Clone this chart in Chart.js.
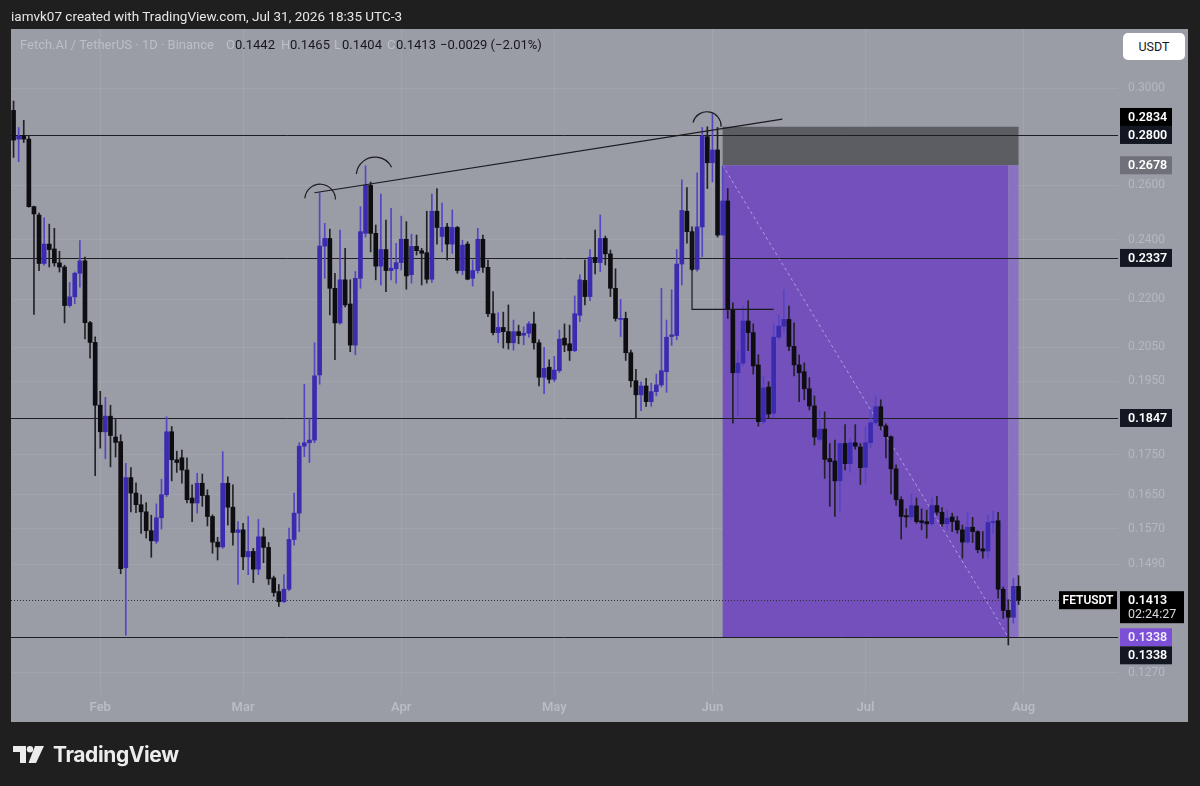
<!DOCTYPE html>
<html>
<head>
<meta charset="utf-8">
<title>FETUSDT 1D</title>
<script src="https://cdn.jsdelivr.net/npm/chart.js@4.4.1/dist/chart.umd.min.js"></script>
<style>
  html, body { margin: 0; padding: 0; background: #1f1f1f; }
  body { width: 1200px; height: 786px; position: relative; overflow: hidden; font-family: Roboto, 'Noto Sans', sans-serif; }
  #chart { position: absolute; left: 0; top: 0; width: 1200px; height: 786px; }
  .txt { position: absolute; white-space: pre; z-index: 2; }
  #credit { left: 11px; top: 8px; color: #e6e6e6; font-size: 13.5px; }
  .lg { top: 37px; font-size: 13px; }
  .faint { color: #bdbfc7; }
  .val { color: #17171c; }
  #usdt { position: absolute; z-index: 2; left: 1123px; top: 33px; width: 62px; height: 27px; background: #fff;
          border-radius: 5px; color: #131722; font-size: 12.5px; line-height: 27px; text-align: center; }
  #logo { position: absolute; left: 13px; top: 742px; z-index: 2; display: flex; align-items: center; }
  #logo span { color: #ececec; font-family: Inter, Roboto, sans-serif; font-weight: 700; font-size: 21px; margin-left: 8px; letter-spacing: -0.4px; }
</style>
</head>
<body>
<canvas id="chart" width="1200" height="786"></canvas>
<div id="credit" class="txt">iamvk07 created with TradingView.com, Jul 31, 2026 18:35 UTC-3</div>
<div class="txt lg faint" style="left:20px">Fetch.AI / TetherUS · 1D · Binance</div>
<div class="txt lg faint" style="left:226px">O</div><div id="lgO" class="txt lg val" style="left:235px"></div>
<div class="txt lg faint" style="left:281px">H</div><div id="lgH" class="txt lg val" style="left:290px"></div>
<div class="txt lg faint" style="left:334px">L</div><div id="lgL" class="txt lg val" style="left:342px"></div>
<div class="txt lg faint" style="left:387px">C</div><div id="lgC" class="txt lg val" style="left:396px"></div>
<div id="lgChg" class="txt lg val" style="left:440px"></div>
<div id="usdt">USDT</div>
<div id="logo">
  <svg width="32" height="18" viewBox="0 0 32 18">
    <path d="M0 0h13v17h-6v-11h-7z" fill="#ececec"/>
    <circle cx="17" cy="3.2" r="3.2" fill="#ececec"/>
    <path d="M22 0h9l-8 17h-7.5z" fill="#ececec"/>
  </svg>
  <span>TradingView</span>
</div>
<script>
// ---- data: FET/USDT daily, 15 Jan 2026 .. 31 Jul 2026 ----
const START_DATE = [2026, 0, 15];
const EXTRA_DAYS = 19; // empty days to the right of the last bar

const opens = [
  0.2903, 0.2783, 0.2797, 0.2783, 0.2520, 0.2489, 0.2318, 0.2385, 0.2368, 0.2320,
  0.2306, 0.2179, 0.2207, 0.2285, 0.2327, 0.2125, 0.2064, 0.1882, 0.1810, 0.1852,
  0.1796, 0.1784, 0.1482, 0.1692, 0.1654, 0.1626, 0.1609, 0.1565, 0.1541, 0.1595,
  0.1650, 0.1810, 0.1737, 0.1742, 0.1711, 0.1642, 0.1630, 0.1678, 0.1648, 0.1598,
  0.1539, 0.1528, 0.1678, 0.1620, 0.1561, 0.1567, 0.1506, 0.1518, 0.1479, 0.1551,
  0.1527, 0.1460, 0.1431, 0.1410, 0.1436, 0.1545, 0.1606, 0.1772, 0.1781, 0.1788,
  0.1968, 0.2378, 0.2405, 0.2235, 0.2124, 0.2263, 0.2184, 0.2056, 0.2268, 0.2423,
  0.2600, 0.2423, 0.2309, 0.2366, 0.2294, 0.2300, 0.2321, 0.2402, 0.2280, 0.2377,
  0.2362, 0.2355, 0.2265, 0.2503, 0.2412, 0.2446, 0.2385, 0.2444, 0.2294, 0.2385,
  0.2268, 0.2294, 0.2402, 0.2305, 0.2153, 0.2094, 0.2110, 0.2097, 0.2063, 0.2097,
  0.2086, 0.2092, 0.2121, 0.2063, 0.1961, 0.1990, 0.1955, 0.1980, 0.2077, 0.2060,
  0.2039, 0.2148, 0.2261, 0.2208, 0.2339, 0.2321, 0.2405, 0.2351, 0.2235, 0.2135,
  0.2138, 0.2033, 0.1951, 0.1911, 0.1936, 0.1892, 0.1920, 0.1939, 0.1977, 0.2082,
  0.2085, 0.2316, 0.2503, 0.2429, 0.2298, 0.2446, 0.2793, 0.2688, 0.2739, 0.2417,
  0.2541, 0.2167, 0.1974, 0.2002, 0.2130, 0.2094, 0.1997, 0.1837, 0.1933, 0.1860,
  0.2080, 0.2114, 0.2135, 0.2052, 0.1997, 0.1977, 0.1928, 0.1880, 0.1790, 0.1817,
  0.1740, 0.1734, 0.1684, 0.1779, 0.1727, 0.1781, 0.1770, 0.1718, 0.1781, 0.1834,
  0.1878, 0.1826, 0.1797, 0.1714, 0.1638, 0.1600, 0.1597, 0.1623, 0.1588, 0.1586,
  0.1581, 0.1624, 0.1608, 0.1581, 0.1597, 0.1588, 0.1567, 0.1539, 0.1573, 0.1563,
  0.1524, 0.1519, 0.1584, 0.1588, 0.1436, 0.1392, 0.1378, 0.1442
];
const highs = [
  0.2943, 0.2831, 0.2861, 0.2797, 0.2522, 0.2496, 0.2479, 0.2456, 0.2441, 0.2360,
  0.2312, 0.2254, 0.2289, 0.2397, 0.2340, 0.2129, 0.2081, 0.1921, 0.1904, 0.1882,
  0.1843, 0.1802, 0.1728, 0.1717, 0.1679, 0.1650, 0.1631, 0.1601, 0.1628, 0.1688,
  0.1850, 0.1824, 0.1759, 0.1762, 0.1742, 0.1674, 0.1703, 0.1701, 0.1662, 0.1602,
  0.1550, 0.1758, 0.1694, 0.1674, 0.1586, 0.1582, 0.1598, 0.1525, 0.1591, 0.1571,
  0.1538, 0.1464, 0.1446, 0.1467, 0.1571, 0.1654, 0.1781, 0.1941, 0.1847, 0.2063,
  0.2572, 0.2459, 0.2438, 0.2285, 0.2435, 0.2370, 0.2263, 0.2291, 0.2520, 0.2676,
  0.2613, 0.2453, 0.2567, 0.2471, 0.2514, 0.2388, 0.2485, 0.2465, 0.2420, 0.2417,
  0.2370, 0.2503, 0.2567, 0.2588, 0.2533, 0.2459, 0.2508, 0.2448, 0.2399, 0.2393,
  0.2330, 0.2441, 0.2417, 0.2330, 0.2224, 0.2156, 0.2158, 0.2181, 0.2133, 0.2117,
  0.2112, 0.2128, 0.2158, 0.2072, 0.2049, 0.2012, 0.2022, 0.2102, 0.2121, 0.2117,
  0.2210, 0.2280, 0.2330, 0.2366, 0.2435, 0.2489, 0.2413, 0.2364, 0.2300, 0.2199,
  0.2158, 0.2041, 0.1984, 0.1948, 0.1958, 0.1944, 0.1970, 0.2235, 0.2133, 0.2230,
  0.2366, 0.2621, 0.2592, 0.2446, 0.2648, 0.2831, 0.2834, 0.2886, 0.2831, 0.2676,
  0.2588, 0.2188, 0.2039, 0.2177, 0.2194, 0.2121, 0.2027, 0.1965, 0.1948, 0.2121,
  0.2149, 0.2230, 0.2177, 0.2124, 0.2027, 0.2003, 0.1960, 0.1908, 0.1869, 0.1864,
  0.1779, 0.1788, 0.1781, 0.1829, 0.1792, 0.1829, 0.1779, 0.1824, 0.1869, 0.1908,
  0.1897, 0.1831, 0.1799, 0.1724, 0.1645, 0.1616, 0.1652, 0.1642, 0.1616, 0.1613,
  0.1642, 0.1646, 0.1619, 0.1614, 0.1606, 0.1598, 0.1578, 0.1609, 0.1596, 0.1565,
  0.1563, 0.1602, 0.1610, 0.1608, 0.1441, 0.1414, 0.1459, 0.1465
];
const lows = [
  0.2709, 0.2692, 0.2769, 0.2518, 0.2151, 0.2294, 0.2312, 0.2306, 0.2309, 0.2289,
  0.2124, 0.2174, 0.2185, 0.2239, 0.2075, 0.2017, 0.1697, 0.1767, 0.1740, 0.1719,
  0.1744, 0.1469, 0.1342, 0.1609, 0.1607, 0.1559, 0.1548, 0.1505, 0.1536, 0.1569,
  0.1645, 0.1684, 0.1705, 0.1678, 0.1630, 0.1586, 0.1606, 0.1622, 0.1576, 0.1514,
  0.1499, 0.1525, 0.1578, 0.1532, 0.1446, 0.1478, 0.1467, 0.1450, 0.1467, 0.1493,
  0.1446, 0.1421, 0.1400, 0.1408, 0.1433, 0.1532, 0.1563, 0.1745, 0.1730, 0.1781,
  0.1941, 0.2268, 0.2149, 0.2012, 0.2120, 0.2175, 0.2036, 0.2027, 0.2235, 0.2410,
  0.2358, 0.2263, 0.2246, 0.2224, 0.2263, 0.2252, 0.2296, 0.2232, 0.2252, 0.2347,
  0.2246, 0.2252, 0.2254, 0.2385, 0.2358, 0.2330, 0.2353, 0.2285, 0.2280, 0.2263,
  0.2242, 0.2285, 0.2288, 0.2144, 0.2087, 0.2063, 0.2047, 0.2044, 0.2041, 0.2060,
  0.2057, 0.2080, 0.2044, 0.1936, 0.1914, 0.1944, 0.1948, 0.1975, 0.2036, 0.2010,
  0.2036, 0.2128, 0.2181, 0.2195, 0.2283, 0.2290, 0.2313, 0.2208, 0.2130, 0.2082,
  0.2010, 0.1933, 0.1847, 0.1867, 0.1879, 0.1879, 0.1908, 0.1933, 0.1918, 0.2055,
  0.2072, 0.2246, 0.2388, 0.2294, 0.2292, 0.2341, 0.2588, 0.2613, 0.2410, 0.2417,
  0.2138, 0.1833, 0.1852, 0.1994, 0.2039, 0.1970, 0.1825, 0.1830, 0.1847, 0.1850,
  0.2072, 0.2094, 0.2039, 0.1965, 0.1892, 0.1897, 0.1869, 0.1775, 0.1783, 0.1690,
  0.1622, 0.1598, 0.1610, 0.1711, 0.1705, 0.1764, 0.1675, 0.1678, 0.1767, 0.1829,
  0.1815, 0.1742, 0.1652, 0.1624, 0.1546, 0.1573, 0.1590, 0.1582, 0.1567, 0.1548,
  0.1577, 0.1601, 0.1575, 0.1567, 0.1563, 0.1559, 0.1503, 0.1536, 0.1538, 0.1515,
  0.1503, 0.1503, 0.1559, 0.1417, 0.1376, 0.1323, 0.1366, 0.1404
];
const closes = [
  0.2779, 0.2795, 0.2783, 0.2520, 0.2493, 0.2318, 0.2385, 0.2366, 0.2320, 0.2306,
  0.2179, 0.2207, 0.2285, 0.2327, 0.2125, 0.2064, 0.1882, 0.1810, 0.1852, 0.1800,
  0.1782, 0.1480, 0.1692, 0.1654, 0.1626, 0.1609, 0.1565, 0.1542, 0.1595, 0.1650,
  0.1810, 0.1737, 0.1730, 0.1711, 0.1638, 0.1630, 0.1678, 0.1648, 0.1598, 0.1539,
  0.1528, 0.1678, 0.1620, 0.1561, 0.1567, 0.1506, 0.1518, 0.1479, 0.1551, 0.1527,
  0.1458, 0.1429, 0.1410, 0.1436, 0.1545, 0.1606, 0.1772, 0.1781, 0.1788, 0.1965,
  0.2378, 0.2405, 0.2235, 0.2124, 0.2263, 0.2181, 0.2056, 0.2268, 0.2429, 0.2600,
  0.2423, 0.2309, 0.2366, 0.2294, 0.2302, 0.2321, 0.2402, 0.2276, 0.2377, 0.2362,
  0.2353, 0.2265, 0.2503, 0.2444, 0.2444, 0.2385, 0.2444, 0.2294, 0.2381, 0.2265,
  0.2294, 0.2402, 0.2305, 0.2153, 0.2094, 0.2110, 0.2097, 0.2063, 0.2097, 0.2085,
  0.2092, 0.2121, 0.2063, 0.1961, 0.1987, 0.1955, 0.1982, 0.2074, 0.2056, 0.2039,
  0.2153, 0.2263, 0.2208, 0.2339, 0.2321, 0.2405, 0.2351, 0.2235, 0.2138, 0.2138,
  0.2033, 0.1951, 0.1911, 0.1936, 0.1892, 0.1920, 0.1939, 0.1980, 0.2080, 0.2087,
  0.2316, 0.2506, 0.2429, 0.2298, 0.2446, 0.2795, 0.2688, 0.2739, 0.2417, 0.2541,
  0.2167, 0.1974, 0.2002, 0.2130, 0.2094, 0.1994, 0.1837, 0.1930, 0.1858, 0.2080,
  0.2114, 0.2135, 0.2052, 0.1997, 0.1974, 0.1928, 0.1880, 0.1796, 0.1817, 0.1738,
  0.1732, 0.1684, 0.1779, 0.1727, 0.1781, 0.1772, 0.1717, 0.1781, 0.1834, 0.1878,
  0.1826, 0.1797, 0.1714, 0.1638, 0.1598, 0.1597, 0.1624, 0.1586, 0.1584, 0.1581,
  0.1624, 0.1608, 0.1581, 0.1594, 0.1586, 0.1567, 0.1539, 0.1573, 0.1563, 0.1522,
  0.1519, 0.1584, 0.1586, 0.1436, 0.1392, 0.1378, 0.1442, 0.1413
];

const yTicks = [0.3000, 0.2600, 0.2400, 0.2200, 0.2050, 0.1950, 0.1750, 0.1650, 0.1570, 0.1490, 0.1270];
const Y_MIN = 0.1231, Y_MAX = 0.3272;
const monthNames = ['Jan', 'Feb', 'Mar', 'Apr', 'May', 'Jun', 'Jul', 'Aug', 'Sep'];

// drawings (bar index, price)
const levelPrices = [0.2800, 0.2337, 0.1847, 0.1338];
const posStop = 0.2834, posEntry = 0.2678, posTarget = 0.1338;
const posBars = [139, 195, 197];           // start, target hit, end
const trendLine = [[59.0, 0.2572], [150.7, 0.2866]];
const arcs = [
  [[57.1, 0.2551], [59.7, 0.2604], [63.1, 0.2547]],
  [[67.2, 0.2644], [70.5, 0.2710], [74.1, 0.2670]],
  [[133.2, 0.2851], [136.1, 0.2897], [138.7, 0.2834]]
];
const stepLine = [[133, 0.2429], [133, 0.2167], [149, 0.2167]];
const countdown = '02:24:27';

// ---- derived ----
const dates = [];
for (let i = 0; i < opens.length + EXTRA_DAYS; i++) {
  dates.push(new Date(Date.UTC(START_DATE[0], START_DATE[1], START_DATE[2] + i)));
}
const labels = dates.map(d => d.toISOString().slice(0, 10));
const monthLabel = dates.map(d => d.getUTCDate() === 1 ? monthNames[d.getUTCMonth()] : '');

const UP = '#3a2bb0', DOWN = '#0e0e12';
const UP_WICK = '#5546c4', DOWN_WICK = '#222226';
const isUp = closes.map((c, i) => c >= opens[i]);

const last = closes.length - 1;
const chg = closes[last] - closes[last - 1];
const pct = chg / closes[last - 1] * 100;
const sgn = v => (v < 0 ? '\u2212' : '+');
document.getElementById('lgO').textContent = opens[last].toFixed(4);
document.getElementById('lgH').textContent = highs[last].toFixed(4);
document.getElementById('lgL').textContent = lows[last].toFixed(4);
document.getElementById('lgC').textContent = closes[last].toFixed(4);
document.getElementById('lgChg').textContent =
  sgn(chg) + Math.abs(chg).toFixed(4) + ' (' + sgn(pct) + Math.abs(pct).toFixed(2) + '%)';

Chart.defaults.font.family = "Roboto, 'Noto Sans', sans-serif";

const PANEL = '#9a9ca6';
const LINE = '#1d1d22';

function px(chart, i) { return chart.scales.x.getPixelForValue(i); }
function py(chart, p) { return chart.scales.y.getPixelForValue(p); }

function arc3(ctx, a, b, c) {
  const d = 2 * (a.x * (b.y - c.y) + b.x * (c.y - a.y) + c.x * (a.y - b.y));
  const A = a.x * a.x + a.y * a.y, B = b.x * b.x + b.y * b.y, C = c.x * c.x + c.y * c.y;
  const ux = (A * (b.y - c.y) + B * (c.y - a.y) + C * (a.y - b.y)) / d;
  const uy = (A * (c.x - b.x) + B * (a.x - c.x) + C * (b.x - a.x)) / d;
  const r = Math.hypot(a.x - ux, a.y - uy);
  const TAU = Math.PI * 2, norm = v => ((v % TAU) + TAU) % TAU;
  const a1 = Math.atan2(a.y - uy, a.x - ux);
  const a2 = Math.atan2(b.y - uy, b.x - ux);
  const a3 = Math.atan2(c.y - uy, c.x - ux);
  const ccw = norm(a2 - a1) > norm(a3 - a1);
  ctx.beginPath();
  ctx.arc(ux, uy, r, a1, a3, ccw);
  ctx.stroke();
}

const tvPlugin = {
  id: 'tv',
  beforeDraw(chart) {
    const { ctx, chartArea } = chart;
    const yS = chart.scales.y, xS = chart.scales.x;
    ctx.save();
    ctx.fillStyle = PANEL;
    ctx.fillRect(chartArea.left, chartArea.top, yS.right - chartArea.left, xS.bottom - chartArea.top);
    ctx.restore();
  },
  beforeDatasetsDraw(chart) {
    const { ctx, chartArea: ca } = chart;
    ctx.save();
    ctx.beginPath();
    ctx.rect(ca.left, ca.top, ca.right - ca.left, ca.bottom - ca.top);
    ctx.clip();

    // short position tool
    const x0 = px(chart, posBars[0]), xh = px(chart, posBars[1]), x1 = px(chart, posBars[2]);
    const yStop = py(chart, posStop), yEntry = py(chart, posEntry), yTgt = py(chart, posTarget);
    ctx.fillStyle = '#5c5d63';
    ctx.fillRect(x0, yStop, x1 - x0, yEntry - yStop);
    ctx.fillStyle = '#7450bd';
    ctx.fillRect(x0, yEntry, xh - x0, yTgt - yEntry);
    ctx.fillStyle = '#8a72c2';
    ctx.fillRect(xh, yEntry, x1 - xh, yTgt - yEntry);
    ctx.strokeStyle = 'rgba(200,190,232,0.7)';
    ctx.lineWidth = 1;
    ctx.setLineDash([3, 3]);
    ctx.beginPath();
    ctx.moveTo(x0, yEntry);
    ctx.lineTo(xh, yTgt);
    ctx.stroke();

    // last price dotted line
    const yLast = Math.round(py(chart, closes[last])) + 0.5;
    ctx.strokeStyle = '#303036';
    ctx.setLineDash([1, 2]);
    ctx.beginPath();
    ctx.moveTo(ca.left, yLast);
    ctx.lineTo(ca.right, yLast);
    ctx.stroke();
    ctx.setLineDash([]);

    // horizontal levels
    ctx.strokeStyle = LINE;
    ctx.lineWidth = 1;
    levelPrices.forEach(p => {
      const y = Math.round(py(chart, p)) + 0.5;
      ctx.beginPath();
      ctx.moveTo(ca.left, y);
      ctx.lineTo(ca.right, y);
      ctx.stroke();
    });
    ctx.restore();
  },
  afterDatasetsDraw(chart) {
    const { ctx, chartArea: ca } = chart;
    ctx.save();
    ctx.beginPath();
    ctx.rect(ca.left, ca.top, ca.right - ca.left, ca.bottom - ca.top);
    ctx.clip();
    ctx.strokeStyle = '#1a1a1e';
    ctx.lineWidth = 1.2;

    ctx.beginPath();
    ctx.moveTo(px(chart, trendLine[0][0]), py(chart, trendLine[0][1]));
    ctx.lineTo(px(chart, trendLine[1][0]), py(chart, trendLine[1][1]));
    ctx.stroke();

    ctx.beginPath();
    stepLine.forEach(([i, p], k) => {
      const x = px(chart, i), y = py(chart, p);
      if (k === 0) ctx.moveTo(x, y); else ctx.lineTo(x, y);
    });
    ctx.stroke();

    arcs.forEach(a => {
      const pts = a.map(([i, p]) => ({ x: px(chart, i), y: py(chart, p) }));
      arc3(ctx, pts[0], pts[1], pts[2]);
    });
    ctx.restore();
  },
  afterDraw(chart) {
    const { ctx } = chart;
    const yS = chart.scales.y;
    const tx = yS.left + 2;
    const tags = [
      { price: levelPrices[0], bg: '#131722', fg: '#fff' },
      { price: posStop, bg: '#000', fg: '#fff', push: -1 },
      { price: posEntry, bg: '#6f7079', fg: '#fff' },
      { price: levelPrices[1], bg: '#131722', fg: '#fff' },
      { price: levelPrices[2], bg: '#131722', fg: '#fff' },
      { price: closes[last], bg: '#000', fg: '#fff', sub: countdown, name: 'FETUSDT' },
      { price: posTarget, bg: '#7b4fd6', fg: '#f0ecff' },
      { price: levelPrices[3], bg: '#131722', fg: '#fff', push: 1 }
    ];
    const placed = [];
    ctx.save();
    ctx.textBaseline = 'middle';
    tags.forEach(t => {
      const h = t.sub ? 32 : 18;
      let top = py(chart, t.price) - 9;
      let moved = true, guard = 0;
      while (moved && guard++ < 20) {
        moved = false;
        for (const p of placed) {
          if (top < p.top + p.h && top + h > p.top) {
            top = t.push < 0 ? p.top - h : p.top + p.h;
            moved = true;
          }
        }
      }
      placed.push({ top, h });
      const w = t.sub ? 64 : 52;
      ctx.fillStyle = t.bg;
      ctx.fillRect(tx, top, w, h);
      ctx.fillStyle = t.fg;
      ctx.font = "600 12.5px Roboto, 'Noto Sans', sans-serif";
      ctx.textAlign = 'left';
      ctx.fillText(t.price.toFixed(4), tx + 8, top + 9.5);
      if (t.sub) {
        ctx.fillStyle = '#d8d8dc';
        ctx.font = "12.5px Roboto, 'Noto Sans', sans-serif";
        ctx.fillText(t.sub, tx + 8, top + 24);
      }
      if (t.name) {
        ctx.fillStyle = '#000';
        ctx.fillRect(yS.left - 59, top, 58, 18);
        ctx.fillStyle = '#fff';
        ctx.font = "600 12px Roboto, 'Noto Sans', sans-serif";
        ctx.textAlign = 'center';
        ctx.fillText(t.name, yS.left - 30, top + 9.5);
      }
    });
    ctx.restore();
  }
};

new Chart(document.getElementById('chart'), {
  type: 'bar',
  data: {
    labels,
    datasets: [
      {
        label: 'body',
        data: opens.map((o, i) => [o, closes[i]]),
        backgroundColor: isUp.map(u => (u ? UP : DOWN)),
        barThickness: 4,
        minBarLength: 1,
        grouped: false,
        order: 0
      },
      {
        label: 'wick',
        data: lows.map((l, i) => [l, highs[i]]),
        backgroundColor: isUp.map(u => (u ? UP_WICK : DOWN_WICK)),
        barThickness: 1,
        grouped: false,
        order: 1
      }
    ]
  },
  options: {
    responsive: false,
    animation: false,
    layout: { padding: { left: 11, top: 29, right: 12, bottom: 64 } },
    plugins: { legend: { display: false }, tooltip: { enabled: false } },
    scales: {
      x: {
        type: 'category',
        offset: true,
        border: { display: false },
        grid: {
          offset: false,
          drawTicks: false,
          color: c => (monthLabel[c.index] ? 'rgba(255,255,255,0.08)' : 'transparent')
        },
        ticks: {
          autoSkip: false,
          maxRotation: 0,
          padding: 6,
          color: '#babcc4',
          font: { size: 13, weight: '600' },
          callback: (v, i) => monthLabel[i]
        },
        afterFit: s => { s.height = 28; }
      },
      y: {
        type: 'logarithmic',
        position: 'right',
        min: Y_MIN,
        max: Y_MAX,
        border: { display: false },
        grid: { drawTicks: false, color: 'rgba(255,255,255,0.08)' },
        ticks: {
          autoSkip: false,
          padding: 10,
          color: '#b6b8c0',
          font: { size: 12 },
          callback: v => Number(v).toFixed(4)
        },
        afterBuildTicks: s => { s.ticks = yTicks.map(v => ({ value: v })); },
        afterFit: s => { s.width = 70; }
      }
    }
  },
  plugins: [tvPlugin]
});
</script>
</body>
</html>
